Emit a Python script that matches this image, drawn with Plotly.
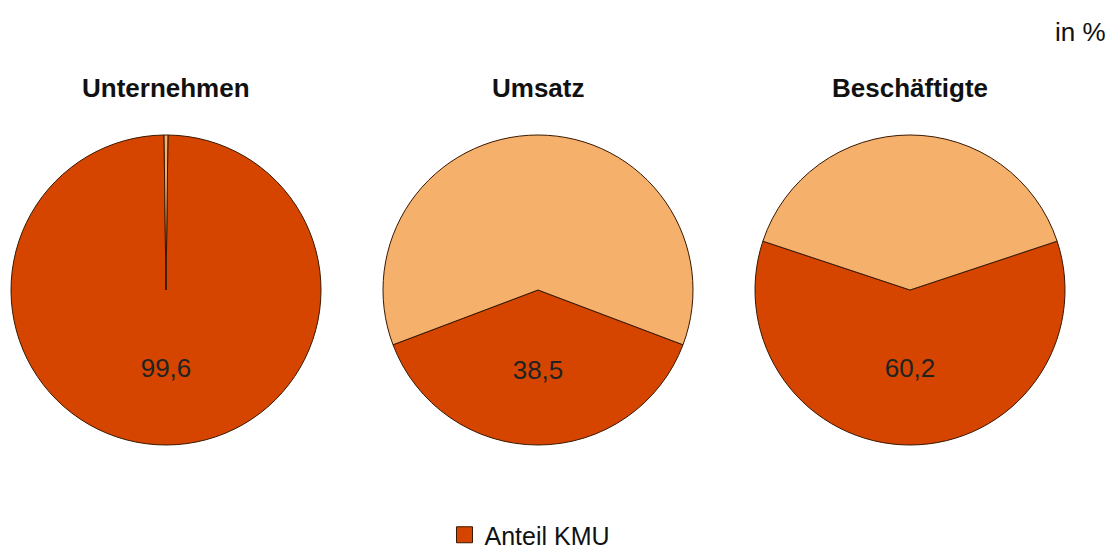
import plotly.graph_objects as go

titles = ["Unternehmen", "Umsatz", "Beschäftigte"]
kmu_share = [99.6, 38.5, 60.2]
kmu_text = ["99,6", "38,5", "60,2"]
slice_labels = ["Anteil KMU", "Übrige"]
colors = ["#D54500", "#F5B06C"]

W, H = 1116, 553
centers_px = [166, 538, 910]
cy_px = 290
r_px = 155

fig = go.Figure()
for i, (t, v, txt) in enumerate(zip(titles, kmu_share, kmu_text)):
    cx = centers_px[i]
    x0, x1 = (cx - r_px) / W, (cx + r_px) / W
    y0, y1 = 1 - (cy_px + r_px) / H, 1 - (cy_px - r_px) / H
    fig.add_trace(go.Pie(
        values=[v, round(100 - v, 1)],
        labels=slice_labels,
        text=[txt, ""],
        textinfo="text",
        textposition="inside",
        insidetextorientation="horizontal",
        textfont=dict(family="Liberation Sans, Arial", size=26, color="#222222"),
        marker=dict(colors=colors, line=dict(color="#3a1800", width=1)),
        sort=False,
        direction="clockwise",
        rotation=180 - v * 1.8,
        domain=dict(x=[x0, x1], y=[y0, y1]),
        showlegend=False,
        hoverinfo="label+percent",
    ))
    fig.add_annotation(
        text=f"<b>{t}</b>", x=(x0 + x1) / 2, y=1 - 88 / H,
        xref="paper", yref="paper", xanchor="center", yanchor="middle",
        showarrow=False,
        font=dict(family="Liberation Sans, Arial", size=26, color="#111111"),
    )

# legend entry
fig.add_trace(go.Scatter(
    x=[None], y=[None], mode="markers", name="Anteil KMU",
    marker=dict(symbol="square", size=22, color=colors[0],
                line=dict(color="#3a1800", width=1)),
    showlegend=True,
))

fig.add_annotation(
    text="in %", x=1108 / W, y=1 - 32 / H, xref="paper", yref="paper",
    xanchor="right", yanchor="middle", showarrow=False,
    font=dict(family="Liberation Sans, Arial", size=26, color="#111111"),
)

fig.update_layout(
    width=W, height=H,
    margin=dict(l=0, r=0, t=0, b=0, autoexpand=False),
    paper_bgcolor="white", plot_bgcolor="white",
    xaxis=dict(visible=False), yaxis=dict(visible=False),
    legend=dict(orientation="h", x=530 / W, xanchor="center", y=1 - 535 / H,
                yanchor="middle",
                font=dict(family="Liberation Sans, Arial", size=25, color="#111111")),
)

fig.write_html("out.html", config={"displayModeBar": False},
               post_script="document.body.style.margin='0';")
